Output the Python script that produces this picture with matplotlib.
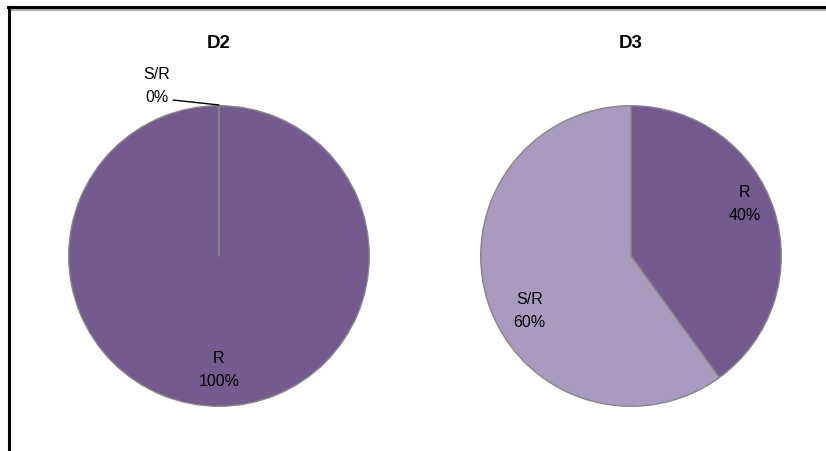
import matplotlib
matplotlib.use('Agg')
import numpy as np
import matplotlib.pyplot as plt
from matplotlib.lines import Line2D

plt.rcParams['font.family'] = ['Liberation Sans', 'DejaVu Sans']

# shares per district
categories = ['R', 'S/R']
d2_values = [100, 0]
d3_values = [40, 60]
titles = ['D2', 'D3']

dark = '#735a8f'
light = '#a99bbf'
edge = '#858585'

W, H = 826, 452
fig = plt.figure(figsize=(W / 100, H / 100), dpi=100)

# frame around the chart area
fig.add_artist(Line2D([8 / W, 1], [1 - 8 / H, 1 - 8 / H], color='black', lw=2.2))
fig.add_artist(Line2D([10 / W, 1], [1 - 11 / H, 1 - 11 / H], color='#b0b0b0', lw=1.5))
fig.add_artist(Line2D([9 / W, 9 / W], [0, 1 - 8 / H], color='black', lw=2.2))


def draw_pie(cx, cy, r, values, title, label_r):
    ax = fig.add_axes([(cx - r) / W, 1 - (cy + r) / H, 2 * r / W, 2 * r / H])
    ax.pie(values, colors=[dark, light], startangle=90,
           counterclock=False, radius=0.995,
           wedgeprops=dict(edgecolor=edge, linewidth=1.0))
    ax.set_xlim(-1, 1)
    ax.set_ylim(-1, 1)
    ax.set_aspect('equal')
    ax.axis('off')
    fig.text(cx / W, 1 - 43 / H, title, ha='center', va='center',
             fontsize=13.5, fontweight='bold')
    total = sum(values)
    start = 90
    out = []
    for cat, v, lr in zip(categories, values, label_r):
        span = 360 * v / total
        mid = np.deg2rad(start - span / 2)
        start -= span
        out.append((cat, v, mid, lr))
    return ax, out


# D2
ax2, parts = draw_pie(219, 257, 151, d2_values, titles[0], [0.75, 1.0])
for cat, v, mid, lr in parts:
    if v > 0:
        ax2.text(lr * np.cos(mid), lr * np.sin(mid), f'{cat}\n{v}%',
                 ha='center', va='center', fontsize=11.5, linespacing=1.65)
    else:
        # zero slice sits at the top, label pulled out with a leader line
        ax2.plot([0, 0], [0, 1], color=edge, lw=1.2)
        ax2.annotate(f'{cat}\n{v}%', xy=(0, 1.0), xytext=(-0.41, 1.13),
                     ha='center', va='center', fontsize=11.5, linespacing=1.65,
                     annotation_clip=False,
                     arrowprops=dict(arrowstyle='-', color='black', lw=1,
                                     shrinkA=0, shrinkB=0,
                                     relpos=(1.0, 0.12)))

# D3
ax3, parts = draw_pie(631, 257, 151, d3_values, titles[1], [0.83, 0.76])
offsets = {'R': np.deg2rad(7), 'S/R': np.deg2rad(10)}
for cat, v, mid, lr in parts:
    a = mid + offsets[cat]
    ax3.text(lr * np.cos(a), lr * np.sin(a), f'{cat}\n{v}%',
             ha='center', va='center', fontsize=11.5, linespacing=1.65)

fig.savefig('out.png', dpi=100)
